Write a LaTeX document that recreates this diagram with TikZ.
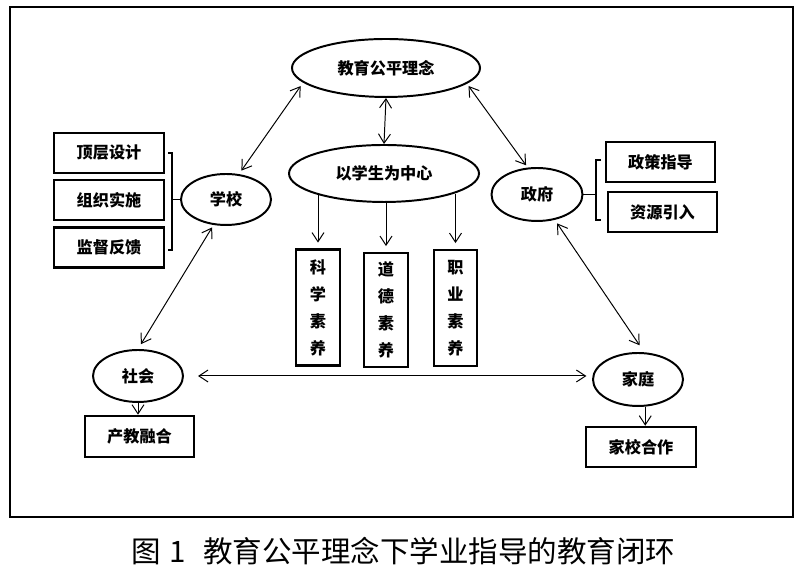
\documentclass[tikz,border=0pt]{standalone}
\usepackage{fontspec}
\newfontfamily\hei{Noto Sans CJK SC}
\usetikzlibrary{arrows.meta,shapes.geometric}

\begin{document}
\begin{tikzpicture}[
			oval/.style={
				ellipse,
				draw,
				line width=1.4pt,
				inner sep=0pt,
				minimum width=2.25cm,
				minimum height=1.3cm,
				font={\hei\bfseries\fontsize{11.5}{14}\selectfont},
			},
			cell/.style={
				rectangle,
				draw,
				line width=1.8pt,
				inner sep=0pt,
				minimum width=2.75cm,
				minimum height=1cm,
				font={\hei\bfseries\fontsize{11.5}{14}\selectfont},
			},
			vcell/.style={
				cell,
				align=center,
				minimum width=1.1cm,
				minimum height=2.9cm,
				font={\hei\bfseries\fontsize{11.5}{19.2}\selectfont},
			},
			ArrowD/.style={% thin arrows with open tips
				line width=0.7pt,
				>={Straight Barb[length=6.5pt,width=8.5pt]},
			},
			brace/.style={
				line width=1.4pt,
			},
			]
				\useasboundingbox (0,0) rectangle (20,14.3);
				\draw[line width=2pt] (0.25,1.375) rectangle (19.825,14.125);
				
				% centre
				\node[oval, minimum width=4.7cm, minimum height=1.45cm] (edu) at (9.65,12.6) {教育公平理念};
				\node[oval, minimum width=4.75cm, minimum height=1.425cm] (stu) at (9.6,9.9625) {以学生为中心};
				\node[vcell] (v1) at (7.95,6.6125) {科\\学\\素\\养};
				\node[vcell, minimum height=2.85cm] (v2) at (9.65,6.55) {道\\德\\素\\养};
				\node[vcell, minimum width=1.075cm] (v3) at (11.3875,6.6) {职\\业\\素\\养};
				
				% school
				\node[oval, minimum height=1.275cm] (sch) at (5.65,9.3125) {学校};
				\node[cell] (d1) at (2.725,10.475) {顶层设计};
				\node[cell] (d2) at (2.725,9.3) {组织实施};
				\node[cell] (d3) at (2.725,8.1125) {监督反馈};
				
				% government
				\node[oval, minimum width=2.275cm, minimum height=1.325cm] (gov) at (13.425,9.4375) {政府};
				\node[cell, minimum width=2.725cm] (p1) at (16.5125,10.25) {政策指导};
				\node[cell, minimum width=2.725cm] (p2) at (16.5625,9.0) {资源引入};
				
				% society and family
				\node[oval] (soc) at (3.45,4.9) {社会};
				\node[cell, minimum width=2.725cm, minimum height=1.025cm] (c1) at (3.4875,3.3875) {产教融合};
				\node[oval, minimum height=1.325cm] (fam) at (15.95,4.8125) {家庭};
				\node[cell] (c2) at (16.025,3.125) {家校合作};
				
				% caption
				\node[font={\hei\fontsize{21}{24}\selectfont}] (cap) at (10.09,0.525) {图\hspace{6pt}1\hspace{12pt}教育公平理念下学业指导的教育闭环};
				
				% brackets
				\coordinate (bl) at (4.3,9.3125);
				\coordinate (br) at (14.9,9.4375);
				\draw[brace] (4.2,10.475) -| (4.3,8.05) -- (4.2,8.05);
				\draw[brace] (sch.west) -- (bl);
				\draw[brace] (15.025,10.3) -| (14.9,8.8) -- (15.025,8.8);
				\draw[brace] (gov.east) -- (br);
				
				\draw[<->,ArrowD] (edu.south) -- (stu.north);
				\draw[<->,ArrowD,shorten <=3pt,shorten >=3pt] (sch.63) -- (edu.190);
				\draw[<->,ArrowD,shorten <=2pt,shorten >=2pt] (edu.349) -- (gov.109);
				\draw[<->,ArrowD,shorten <=2pt,shorten >=4pt] (sch.244) -- (soc.north);
				\draw[<->,ArrowD,shorten <=3pt,shorten >=6pt] (gov.305) -- (fam.77);
				\draw[<->,ArrowD,shorten <=10pt,shorten >=4pt] (soc.east) -- (soc.east -| fam.west);
				
				\draw[->,ArrowD,shorten >=4pt] (v1.north |- stu.196) -- (v1.north);
				\draw[->,ArrowD,shorten >=4pt] (v2.north |- stu.south) -- (v2.north);
				\draw[->,ArrowD,shorten >=4pt] (v3.north |- stu.344) -- (v3.north);
				
				\draw[->,ArrowD] (soc.south) -- (soc.south |- c1.north);
				\draw[->,ArrowD] (fam.285) -- (fam.285 |- c2.north);
			\end{tikzpicture}
\end{document}
